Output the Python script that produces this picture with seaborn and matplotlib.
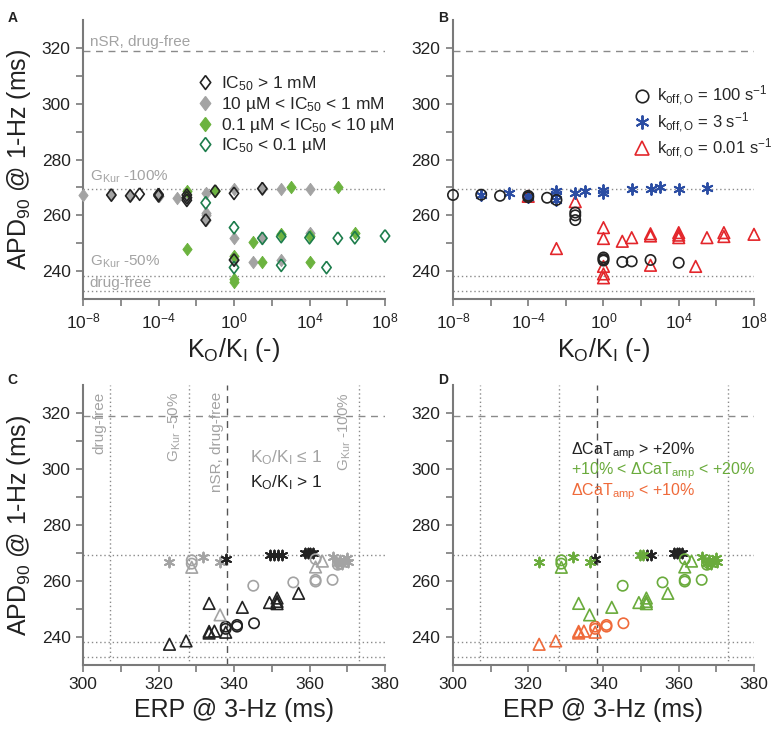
import numpy as np
import matplotlib
matplotlib.use("Agg")
import matplotlib.pyplot as plt
from matplotlib.lines import Line2D
from matplotlib.markers import MarkerStyle
from matplotlib.ticker import FixedLocator, NullFormatter, FixedFormatter
import seaborn as sns

sns.set_style("ticks")
plt.rcParams['font.family'] = ['Liberation Sans', 'DejaVu Sans']
plt.rcParams['mathtext.fontset'] = 'custom'
plt.rcParams['mathtext.rm'] = 'Liberation Sans'
plt.rcParams['mathtext.it'] = 'Liberation Sans'

# ---------------- Panel A data (log10 K_O/K_I, APD90) ----------------
a_gray_logx = [-8, -6.5, -5.5, -4, -3, -2.5, -1.5, -1.5, -1.5, -1.5, 0, 0, 0, 1, 1.5, 1.5, 2.5, 2.5, 4, 4]
a_gray_apd = [267.3, 267.3, 267.0, 267.0, 266.3, 266.5, 268.1, 261.0, 260.0, 258.3, 269.5, 251.7, 244.0,
              243.3, 251.8, 269.6, 269.6, 244.0, 269.5, 253.8]
a_black_logx = [-6.5, -5.5, -5, -4, -4, -2.5, -2.5, -2.5, -1.5, -1, 0, 0, 1.5]
a_black_apd = [267.3, 267.0, 267.6, 267.0, 267.5, 267.3, 266.3, 265.4, 258.3, 268.7, 267.9, 244.0, 269.6]
a_green_logx = [-2.5, -2.5, -1, 0, 0, 0, 1, 1.5, 2.5, 3, 4, 4, 5.5, 6.4]
a_green_apd = [268.9, 247.9, 268.7, 245.3, 237.2, 236.2, 250.5, 243.3, 253.2, 270.2, 252.6, 243.3, 270.0, 253.8]
a_dgreen_logx = [-1.5, 0, 0, 1.5, 2.5, 2.5, 4, 4.9, 5.5, 6.4, 8]
a_dgreen_apd = [264.5, 255.6, 241.3, 251.8, 252.4, 242.1, 252.0, 241.3, 251.8, 252.0, 252.6]
a_labels = [r"IC$_{50}$ > 1 mM", r"10 µM < IC$_{50}$ < 1 mM",
            r"0.1 µM < IC$_{50}$ < 10 µM", r"IC$_{50}$ < 0.1 µM"]

# ---------------- Panel B data ----------------
b_circ_logx = [-8, -6.5, -5.5, -4, -4, -3, -2.5, -1.5, -1.5, -1.5, 0, 0, 0, 1, 1.5, 2.5, 4]
b_circ_apd = [267.3, 267.4, 267.0, 267.0, 266.5, 266.3, 265.5, 261.0, 260.0, 258.3, 244.9, 244.3, 243.8,
              243.3, 243.5, 244.0, 243.0]
b_star_logx = [-6.5, -5, -4, -4, -2.5, -2.5, -2.5, -1.5, -1, 0, 0, 1.5, 2.5, 3, 4, 5.5]
b_star_apd = [267.4, 267.9, 267.0, 266.5, 268.7, 267.5, 265.5, 268.0, 268.7, 269.0, 268.1, 269.6, 269.6,
              270.0, 269.5, 269.9]
b_tri_logx = [-4, -2.5, -1.5, 0, 0, 0, 0, 0, 1, 1.5, 2.5, 2.5, 2.5, 4, 4, 4, 4.9, 5.5, 6.4, 6.4, 8]
b_tri_apd = [266.8, 248.1, 264.9, 255.6, 251.7, 241.7, 239.0, 237.6, 250.7, 252.0, 253.4, 252.6, 242.1,
             253.8, 252.9, 252.0, 241.7, 252.0, 253.8, 252.4, 253.2]
b_labels = [r"k$_{\mathrm{off,O}}$ = 100 s$^{-1}$", r"k$_{\mathrm{off,O}}$ = 3 s$^{-1}$",
            r"k$_{\mathrm{off,O}}$ = 0.01 s$^{-1}$"]

# ---------------- Panels C / D data (ERP, APD90, groups) ----------------
cd_star_erp = [322.8, 331.9, 336.3, 337.8, 349.6, 350.6, 351.6, 352.6, 358.8, 359.5, 360.2, 361.0,
               366.1, 367.4, 368.0, 368.6, 369.2, 369.8, 370.3]
cd_star_apd = [266.9, 268.5, 266.9, 267.9, 269.3, 269.3, 269.3, 269.3, 269.9, 269.9, 269.9, 269.9,
               268.7, 266.4, 267.6, 266.0, 267.2, 268.2, 266.8]
cd_star_koki = ['le1', 'le1', 'le1', 'gt1', 'gt1', 'gt1', 'gt1', 'gt1', 'gt1', 'gt1', 'gt1', 'gt1',
                'le1', 'le1', 'le1', 'le1', 'le1', 'le1', 'le1']
cd_star_cat = ['mid', 'mid', 'mid', 'hi', 'mid', 'mid', 'hi', 'hi', 'hi', 'hi', 'hi', 'hi',
               'mid', 'mid', 'mid', 'mid', 'mid', 'mid', 'mid']

cd_circ_erp = [328.8, 328.8, 345.1, 355.7, 361.6, 361.6, 361.6, 366.1, 367.5, 368.0,
               337.8, 337.8, 340.8, 340.8, 345.3]
cd_circ_apd = [267.4, 266.2, 258.3, 259.5, 267.8, 260.4, 259.8, 260.4, 265.8, 266.3,
               243.7, 242.9, 244.3, 243.7, 244.9]
cd_circ_koki = ['le1'] * 10 + ['gt1'] * 5
cd_circ_cat = ['mid'] * 10 + ['lo'] * 5

cd_tri_erp = [328.8, 336.3, 361.6, 363.4, 322.9, 327.3, 333.4, 333.4, 334.8, 337.8,
              333.4, 342.2, 349.4, 351.4, 351.4, 351.4, 357.1]
cd_tri_apd = [264.9, 247.9, 265.0, 267.1, 237.4, 238.6, 242.0, 241.4, 242.1, 241.7,
              252.0, 250.6, 252.3, 253.9, 252.7, 251.9, 255.6]
cd_tri_koki = ['le1'] * 4 + ['gt1'] * 13
cd_tri_cat = ['mid'] * 4 + ['lo'] * 6 + ['mid'] * 7

# reference values
apd_nsr, apd_gkur100, apd_gkur50, apd_free = 319.0, 269.3, 238.2, 232.9
erp_free, erp_gkur50, erp_nsr, erp_gkur100 = 307.2, 328.1, 338.2, 373.2

# ---------------- styling ----------------
GRAY = '#a3a3a3'
BLACK = '#222222'
GREEN = '#6cb33f'
DGREEN = '#1d7d4c'
BLUE = '#2b4da3'
RED = '#e3262b'
DGREEN2 = '#6aab3c'
ORANGE = '#ef6a3a'
SPINE = '#7a7a7a'
LINEC = '#8a8a8a'

DIAMOND = MarkerStyle([(0, 1), (0.75, 0), (0, -1), (-0.75, 0), (0, 1)])
ASTER = (6, 2, 0)

TICK_FS = 12.5
LABEL_FS = 18
LEG_FS = 12.5

fig = plt.figure(figsize=(7.73, 7.29), dpi=100)
axA = fig.add_axes([0.1074, 0.5898, 0.3907, 0.3827])
axB = fig.add_axes([0.5860, 0.5898, 0.3894, 0.3827])
axC = fig.add_axes([0.1074, 0.0878, 0.3907, 0.3841])
axD = fig.add_axes([0.5860, 0.0878, 0.3894, 0.3841])


def pts(ax, x, y, marker, color, kind='open', s=60, lw=1.2, z=3):
    if len(x) == 0:
        return
    if kind == 'open':
        sns.scatterplot(x=np.asarray(x), y=np.asarray(y), ax=ax, marker=marker, s=s, color=color,
                        facecolor='none', edgecolor=color, linewidth=lw, clip_on=False,
                        zorder=z, legend=False)
    elif kind == 'filled':
        sns.scatterplot(x=np.asarray(x), y=np.asarray(y), ax=ax, marker=marker, s=s, color=color,
                        edgecolor=color, linewidth=0.6, clip_on=False, zorder=z, legend=False)
    else:  # line marker
        sns.scatterplot(x=np.asarray(x), y=np.asarray(y), ax=ax, marker=marker, s=s, color=color,
                        linewidth=lw, clip_on=False, zorder=z, legend=False)


def style_axes(ax):
    for sp in ['top', 'right']:
        ax.spines[sp].set_visible(False)
    for sp in ['left', 'bottom']:
        ax.spines[sp].set_color(SPINE)
        ax.spines[sp].set_linewidth(1.5)
    ax.tick_params(which='both', direction='out', length=5, width=1.2, color=SPINE,
                   labelcolor=BLACK, labelsize=TICK_FS, pad=4)
    ax.set_ylim(230, 330)
    ax.yaxis.set_major_locator(FixedLocator([240, 260, 280, 300, 320]))
    ax.yaxis.set_minor_locator(FixedLocator([250, 270, 290, 310]))
    ax.set_ylabel('')
    ax.set_xlabel('')


def hlines(ax):
    ax.axhline(apd_nsr, color=LINEC, lw=1.0, ls=(0, (5, 4)), zorder=1)
    for v in [apd_gkur100, apd_gkur50, apd_free]:
        ax.axhline(v, color=LINEC, lw=1.0, ls=(0, (1, 2)), zorder=1)


# ---------------- Panel A ----------------
axA.set_xscale('log')
hlines(axA)
pts(axA, 10.0 ** np.array(a_gray_logx), a_gray_apd, DIAMOND, GRAY, 'filled', s=80, z=3)
pts(axA, 10.0 ** np.array(a_green_logx), a_green_apd, DIAMOND, GREEN, 'filled', s=80, z=4)
pts(axA, 10.0 ** np.array(a_dgreen_logx), a_dgreen_apd, DIAMOND, DGREEN, 'open', s=80, z=5)
pts(axA, 10.0 ** np.array(a_black_logx), a_black_apd, DIAMOND, BLACK, 'open', s=80, z=6)

# ---------------- Panel B ----------------
axB.set_xscale('log')
hlines(axB)
pts(axB, 10.0 ** np.array(b_tri_logx), b_tri_apd, '^', RED, 'open', s=70, z=3)
pts(axB, 10.0 ** np.array(b_star_logx), b_star_apd, ASTER, BLUE, 'line', s=60, lw=1.4, z=4)
pts(axB, 10.0 ** np.array(b_circ_logx), b_circ_apd, 'o', BLACK, 'open', s=55, z=5)

for ax in (axA, axB):
    style_axes(ax)
    ax.set_xlim(1e-8, 1e8)
    ax.xaxis.set_major_locator(FixedLocator([1e-8, 1e-4, 1e0, 1e4, 1e8]))
    ax.xaxis.set_major_formatter(FixedFormatter(
        [r'10$^{-8}$', r'10$^{-4}$', r'10$^{0}$', r'10$^{4}$', r'10$^{8}$']))
    ax.xaxis.set_minor_locator(FixedLocator([1e-6, 1e-2, 1e2, 1e6]))
    ax.xaxis.set_minor_formatter(NullFormatter())
    ax.set_xlabel(r'K$_{\mathrm{O}}$/K$_{\mathrm{I}}$ (-)', fontsize=LABEL_FS, color=BLACK, labelpad=3)

axA.set_ylabel(r'APD$_{90}$ @ 1-Hz (ms)', fontsize=LABEL_FS, color=BLACK, labelpad=6)

# Panel A annotations
ann = dict(color=GRAY, fontsize=11, ha='left', va='center')
axA.text(10 ** -7.65, 322.2, 'nSR, drug-free', **ann)
axA.text(10 ** -7.65, 273.8, r'G$_{\mathrm{Kur}}$ -100%', **ann)
axA.text(10 ** -7.65, 243.3, r'G$_{\mathrm{Kur}}$ -50%', **ann)
axA.text(10 ** -7.65, 235.6, 'drug-free', **ann)

hA = [Line2D([], [], ls='', marker=DIAMOND, ms=10, mfc='none', mec=BLACK, mew=1.2),
      Line2D([], [], ls='', marker=DIAMOND, ms=10, mfc=GRAY, mec=GRAY),
      Line2D([], [], ls='', marker=DIAMOND, ms=10, mfc=GREEN, mec=GREEN),
      Line2D([], [], ls='', marker=DIAMOND, ms=10, mfc='none', mec=DGREEN, mew=1.2)]
legA = axA.legend(hA, a_labels, loc='upper left', bbox_to_anchor=(0.375, 0.805), frameon=False,
                  fontsize=LEG_FS, handlelength=1.0, handletextpad=0.45, labelspacing=0.1,
                  borderpad=0, borderaxespad=0)

hB = [Line2D([], [], ls='', marker='o', ms=9, mfc='none', mec=BLACK, mew=1.2),
      Line2D([], [], ls='', marker=ASTER, ms=10, color=BLUE, mew=1.4),
      Line2D([], [], ls='', marker='^', ms=10, mfc='none', mec=RED, mew=1.2)]
legB = axB.legend(hB, b_labels, loc='upper left', bbox_to_anchor=(0.6, 0.77), frameon=False,
                  fontsize=12, handlelength=1.0, handletextpad=0.4, labelspacing=0.12,
                  borderpad=0, borderaxespad=0)

# ---------------- Panels C / D ----------------
koki_col = {'le1': GRAY, 'gt1': BLACK}
cat_col = {'hi': BLACK, 'mid': DGREEN2, 'lo': ORANGE}


def draw_cd(ax, groups, cmap):
    for erp, apd, g, marker, kind, s in groups:
        erp = np.asarray(erp); apd = np.asarray(apd); g = np.asarray(g)
        for key, col in cmap.items():
            m = g == key
            pts(ax, erp[m], apd[m], marker, col, kind, s=s, lw=1.2 if kind == 'open' else 1.4)


for ax, gkey, cmap in ((axC, 'koki', koki_col), (axD, 'cat', cat_col)):
    hlines(ax)
    ax.axvline(erp_nsr, color='#555555', lw=1.0, ls=(0, (5, 4)), zorder=1)
    for v in [erp_free, erp_gkur50, erp_gkur100]:
        ax.axvline(v, color=LINEC, lw=1.0, ls=(0, (1, 2)), zorder=1)
    if gkey == 'koki':
        groups = [(cd_star_erp, cd_star_apd, cd_star_koki, ASTER, 'line', 50),
                  (cd_circ_erp, cd_circ_apd, cd_circ_koki, 'o', 'open', 55),
                  (cd_tri_erp, cd_tri_apd, cd_tri_koki, '^', 'open', 70)]
    else:
        groups = [(cd_star_erp, cd_star_apd, cd_star_cat, ASTER, 'line', 50),
                  (cd_circ_erp, cd_circ_apd, cd_circ_cat, 'o', 'open', 55),
                  (cd_tri_erp, cd_tri_apd, cd_tri_cat, '^', 'open', 70)]
    draw_cd(ax, groups, cmap)
    style_axes(ax)
    ax.set_xlim(300, 380)
    ax.xaxis.set_major_locator(FixedLocator([300, 320, 340, 360, 380]))
    ax.xaxis.set_minor_locator(FixedLocator([310, 330, 350, 370]))
    ax.set_xlabel('ERP @ 3-Hz (ms)', fontsize=LABEL_FS, color=BLACK, labelpad=4)

axC.set_ylabel(r'APD$_{90}$ @ 1-Hz (ms)', fontsize=LABEL_FS, color=BLACK, labelpad=6)

vt = dict(color=GRAY, fontsize=11, rotation=90, ha='center', va='top')
axC.text(304.2, 327.5, 'drug-free', **vt)
axC.text(324.4, 327.5, r'G$_{\mathrm{Kur}}$ -50%', **vt)
axC.text(335.4, 327.5, 'nSR, drug-free', **vt)
axC.text(369.4, 327.5, r'G$_{\mathrm{Kur}}$ -100%', **vt)
axC.text(344.2, 304.0, r'K$_{\mathrm{O}}$/K$_{\mathrm{I}}$ ≤ 1', color=GRAY, fontsize=12.5, ha='left', va='center')
axC.text(344.2, 295.0, r'K$_{\mathrm{O}}$/K$_{\mathrm{I}}$ > 1', color=BLACK, fontsize=12.5, ha='left', va='center')

dfs = 11.5
axD.text(331.4, 306.6, r'ΔCaT$_{\mathrm{amp}}$ > +20%', color=BLACK, fontsize=dfs, ha='left', va='center')
axD.text(331.4, 299.3, r'+10% < ΔCaT$_{\mathrm{amp}}$ < +20%', color=DGREEN2, fontsize=dfs, ha='left', va='center')
axD.text(331.4, 292.0, r'ΔCaT$_{\mathrm{amp}}$ < +10%', color=ORANGE, fontsize=dfs, ha='left', va='center')

# panel letters
for lab, x, y in (('A', 0.010, 0.985), ('B', 0.567, 0.985), ('C', 0.010, 0.488), ('D', 0.567, 0.488)):
    fig.text(x, y, lab, fontsize=10, fontweight='bold', color=BLACK, ha='left', va='top')

fig.savefig('out.png', dpi=100)
